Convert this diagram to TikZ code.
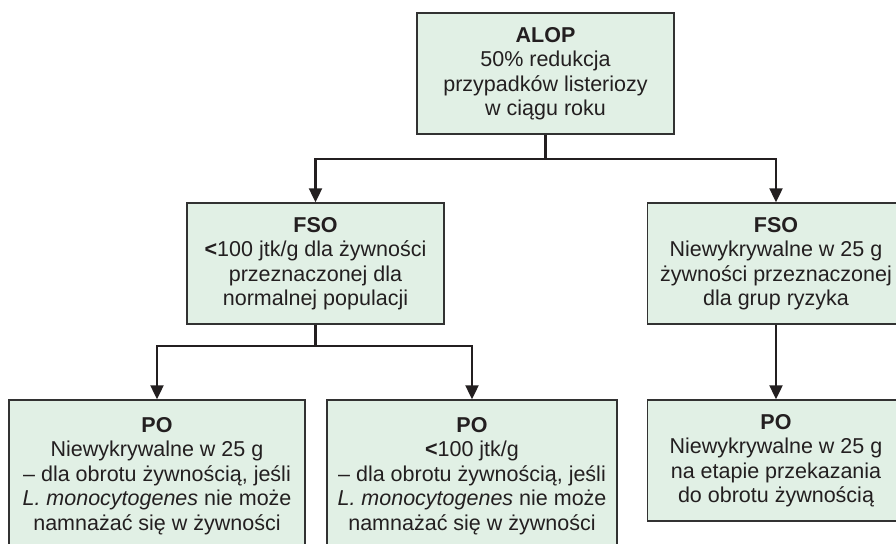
\documentclass[tikz,border=0pt]{standalone}
\usepackage{fontspec}
\setmainfont{Liberation Sans}
\usetikzlibrary{arrows.meta}
\definecolor{boxfill}{RGB}{225,240,229}
\definecolor{boxline}{RGB}{50,50,50}
\definecolor{ink}{RGB}{35,31,32}
\tikzset{
  box/.style={draw=boxline, line width=1.4pt, fill=boxfill, align=center,
    font=\fontsize{21.5}{24.5}\selectfont, inner sep=0pt, text=ink},
  conn/.style={line width=2.2pt, draw=ink},
  arr/.style={conn, -{Triangle[width=13pt,length=14pt]}}
}
\begin{document}
\begin{tikzpicture}[x=1pt,y=1pt]
\useasboundingbox (0,0) rectangle (896,543);
\clip (0,0) rectangle (896,543);
\fill[white] (0,0) rectangle (896,543);

\node[box, minimum width=257pt, minimum height=121pt] (alop) at (545.5,469.5)
  {\textbf{ALOP}\\50\% redukcja\\przypadków listeriozy\\w ciągu roku};

\node[box, minimum width=257pt, minimum height=121pt] (fso1) at (315.5,279.5)
  {\textbf{FSO}\\\textbf{<}100 jtk/g dla żywności\\przeznaczonej dla\\normalnej populacji};

\node[box, minimum width=257pt, minimum height=121pt] (fso2) at (776,279.5)
  {\textbf{FSO}\\Niewykrywalne w 25 g\\żywności przeznaczonej\\dla grup ryzyka};

\node[box, minimum width=296pt, minimum height=152pt] (po1) at (157,67)
  {\textbf{PO}\\Niewykrywalne w 25 g\\– dla obrotu żywnością, jeśli\\\textit{L. monocytogenes} nie może\\namnażać się w żywności};

\node[box, minimum width=290pt, minimum height=152pt] (po2) at (472,67)
  {\textbf{PO}\\\textbf{<}100 jtk/g\\– dla obrotu żywnością, jeśli\\\textit{L. monocytogenes} nie może\\namnażać się w żywności};

\node[box, minimum width=257pt, minimum height=121pt] (po3) at (776,82.5)
  {\textbf{PO}\\Niewykrywalne w 25 g\\na etapie przekazania\\do obrotu żywnością};

% connectors
\draw[conn] (alop.south) -- ++(0,-24) coordinate (j1);
\draw[arr] (j1) -| (fso1.north);
\draw[arr] (j1) -| (fso2.north);

\draw[conn] (fso1.south) -- ++(0,-21) coordinate (j2);
\draw[arr] (j2) -| (po1.north);
\draw[arr] (j2) -| (po2.north);

\draw[arr] (fso2.south) -- (po3.north);
\end{tikzpicture}
\end{document}
